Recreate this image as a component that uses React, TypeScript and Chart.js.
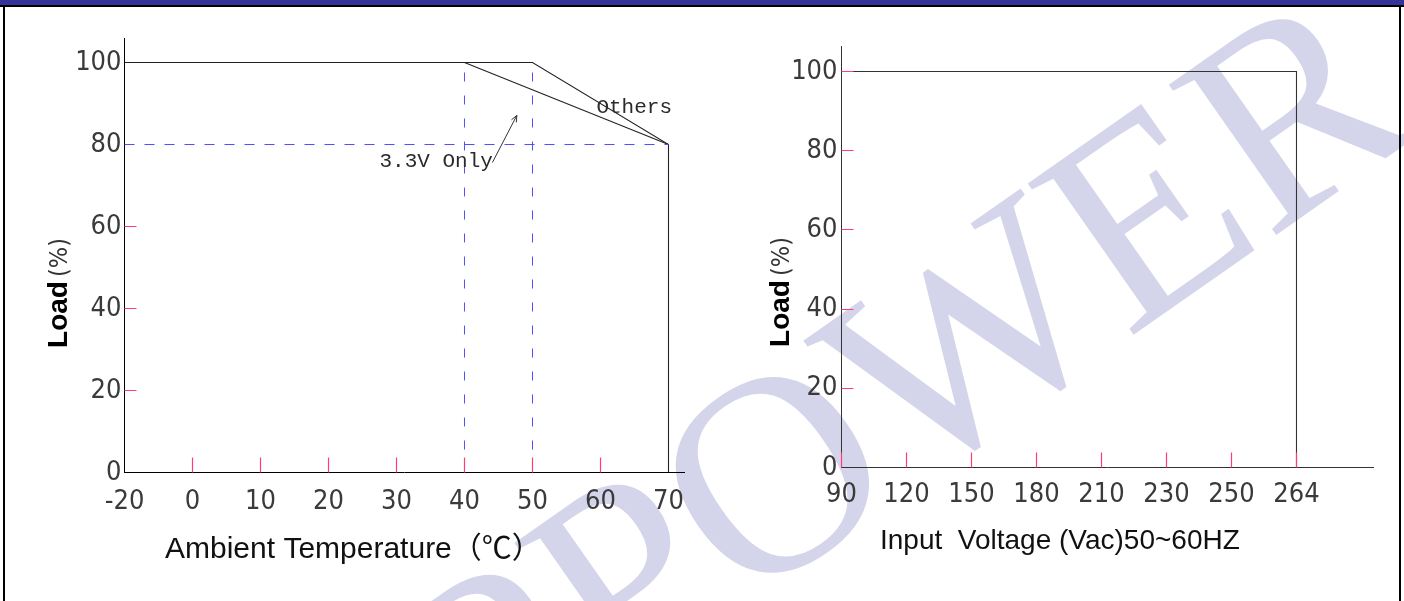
import React, { useEffect, useRef } from "react";
import { Chart, registerables } from "chart.js";

Chart.register(...registerables);

// ---------- Left chart: derating vs ambient temperature ----------
// The temperature axis is broken: -20 sits one tick-step left of 0.
const tempTickValues = [-20, 0, 10, 20, 30, 40, 50, 60, 70];
const tempTickMarks = [0, 10, 20, 30, 40, 50, 60];
const loadTickValues = [0, 20, 40, 60, 80, 100];
const leftLoadTickMarks = [20, 40, 60];

const othersTemp = [-20, 50, 70, 70];
const othersLoad = [100, 100, 80, 0];
const v33Temp = [40, 70];
const v33Load = [100, 80];

const guide40Temp = [40, 40];
const guide40Load = [0, 100];
const guide50Temp = [50, 50];
const guide50Load = [0, 100];
const guide80Temp = [-20, 70];
const guide80Load = [80, 80];

const othersLabel = "Others";
const othersLabelAt = [59.4, 87.8];
const v33Label = "3.3V Only";
const v33LabelAt = [27.5, 74.4];
const arrowFrom = [44.1, 75.6];
const arrowTo = [47.7, 87.1];

// ---------- Right chart: load vs input voltage ----------
const voltageLabels = ["90", "120", "150", "180", "210", "230", "250", "264"];
const voltageLineV = ["90", "264", "264"];
const voltageLineLoad = [100, 100, 0];
const rightLoadTickMarks = [20, 40, 60, 80, 100];

const leftXTitle = "Ambient Temperature（℃）";
const rightXTitle = "Input  Voltage (Vac)50~60HZ";
const yTitleMain = "Load";
const yTitleUnit = "(%)";
const watermark = "PPOWER";

const PINK = "#ff3f74";
const DASH_BLUE = "#4f4fff";
const TICK_FONT = "'DejaVu Sans Condensed', 'DejaVu Sans', sans-serif";

// broken-axis transform: [-20,0] occupies one step, then 10 per step
const tempPos = (t: number) => (t < 0 ? (t + 20) / 20 : 1 + t / 10);
const zipTemp = (xs: number[], ys: number[]) => xs.map((x, i) => ({ x: tempPos(x), y: ys[i] }));

function tickMarksPlugin(xMarks: number[], yMarks: number[], color: string) {
  return {
    id: "tickMarks",
    afterDatasetsDraw(chart: any) {
      const { ctx, chartArea, scales } = chart;
      const xs = scales.x;
      const ys = scales.y;
      ctx.save();
      ctx.strokeStyle = color;
      ctx.lineWidth = 1.2;
      ctx.beginPath();
      xMarks.forEach((v) => {
        const px = Math.floor(xs.getPixelForValue(v)) + 0.5;
        ctx.moveTo(px, chartArea.bottom);
        ctx.lineTo(px, chartArea.bottom - 15);
      });
      yMarks.forEach((v) => {
        const py = Math.floor(ys.getPixelForValue(v)) + 0.5;
        ctx.moveTo(chartArea.left, py);
        ctx.lineTo(chartArea.left + 12, py);
      });
      ctx.stroke();
      ctx.restore();
    },
  };
}

function titlesPlugin(opts: {
  xTitle: string;
  xTitleFont: string;
  xTitleLeft: number;
  xTitleBase: number;
  yTitleX: number;
  yTitleCenter: number;
}) {
  return {
    id: "titles",
    afterDraw(chart: any) {
      const { ctx } = chart;
      ctx.save();
      ctx.fillStyle = "#111";
      ctx.textBaseline = "alphabetic";
      ctx.textAlign = "left";
      ctx.font = opts.xTitleFont;
      ctx.fillText(opts.xTitle, opts.xTitleLeft, opts.xTitleBase);

      ctx.translate(opts.yTitleX, opts.yTitleCenter);
      ctx.rotate(-Math.PI / 2);
      const boldFont = "bold 28px 'Liberation Sans', Arial, sans-serif";
      const lightFont = "25px 'DejaVu Sans Condensed', 'Liberation Sans', sans-serif";
      ctx.font = boldFont;
      const w1 = ctx.measureText(yTitleMain).width;
      ctx.font = lightFont;
      const w2 = ctx.measureText(yTitleUnit).width;
      const gap = 4;
      const total = w1 + gap + w2;
      ctx.font = boldFont;
      ctx.fillStyle = "#000";
      ctx.fillText(yTitleMain, -total / 2, 0);
      ctx.font = lightFont;
      ctx.fillStyle = "#333";
      ctx.fillText(yTitleUnit, -total / 2 + w1 + gap, 0);
      ctx.restore();
    },
  };
}

const annotationPlugin = {
  id: "annotations",
  afterDatasetsDraw(chart: any) {
    const { ctx, scales } = chart;
    const xs = scales.x;
    const ys = scales.y;
    const px = (t: number) => xs.getPixelForValue(tempPos(t));
    const py = (l: number) => ys.getPixelForValue(l);
    ctx.save();
    ctx.fillStyle = "#2a2a2a";
    ctx.font = "21px 'Liberation Mono', 'DejaVu Sans Mono', monospace";
    ctx.textBaseline = "alphabetic";
    ctx.textAlign = "left";
    ctx.fillText(othersLabel, px(othersLabelAt[0]), py(othersLabelAt[1]));
    ctx.fillText(v33Label, px(v33LabelAt[0]), py(v33LabelAt[1]));

    const x1 = px(arrowFrom[0]);
    const y1 = py(arrowFrom[1]);
    const x2 = px(arrowTo[0]);
    const y2 = py(arrowTo[1]);
    const ang = Math.atan2(y2 - y1, x2 - x1);
    ctx.strokeStyle = "#333";
    ctx.lineWidth = 1;
    ctx.beginPath();
    ctx.moveTo(x1, y1);
    ctx.lineTo(x2, y2);
    const h = 7;
    ctx.moveTo(x2, y2);
    ctx.lineTo(x2 - h * Math.cos(ang - 0.4), y2 - h * Math.sin(ang - 0.4));
    ctx.moveTo(x2, y2);
    ctx.lineTo(x2 - h * Math.cos(ang + 0.4), y2 - h * Math.sin(ang + 0.4));
    ctx.stroke();
    ctx.restore();
  },
};

export default function App() {
  const wmRef = useRef<HTMLCanvasElement>(null);
  const leftRef = useRef<HTMLCanvasElement>(null);
  const rightRef = useRef<HTMLCanvasElement>(null);

  useEffect(() => {
    // watermark, anchored on the centre of its "O"
    const wm = wmRef.current!;
    const wctx = wm.getContext("2d")!;
    wctx.clearRect(0, 0, wm.width, wm.height);
    const size = 282;
    const a = (-35 * Math.PI) / 180;
    wctx.save();
    wctx.fillStyle = "#d4d5ea";
    wctx.font = `${size}px 'Liberation Serif', 'Times New Roman', serif`;
    const along = wctx.measureText("PP").width + wctx.measureText("O").width / 2;
    const up = -0.331 * size;
    const ox = along * Math.cos(a) - up * Math.sin(a);
    const oy = along * Math.sin(a) + up * Math.cos(a);
    wctx.translate(772 - ox, 474 - oy);
    wctx.rotate(a);
    wctx.fillText(watermark, 0, 0);
    wctx.restore();

    const lineStyle = (color: string, width: number, dash: number[] = []) => ({
      showLine: true,
      borderColor: color,
      backgroundColor: color,
      borderWidth: width,
      borderDash: dash,
      pointRadius: 0,
      fill: false,
      tension: 0,
    });

    const tickFont = { family: TICK_FONT, size: 27 };

    const left = new Chart(leftRef.current!, {
      type: "scatter",
      data: {
        datasets: [
          { label: "guide40", data: zipTemp(guide40Temp, guide40Load), ...lineStyle(DASH_BLUE, 1, [9, 14]) },
          { label: "guide50", data: zipTemp(guide50Temp, guide50Load), ...lineStyle(DASH_BLUE, 1, [9, 14]) },
          { label: "guide80", data: zipTemp(guide80Temp, guide80Load), ...lineStyle(DASH_BLUE, 1, [10, 10]) },
          { label: "Others", data: zipTemp(othersTemp, othersLoad), ...lineStyle("#222", 1.1) },
          { label: "3.3V Only", data: zipTemp(v33Temp, v33Load), ...lineStyle("#222", 1.1) },
        ],
      } as any,
      options: {
        responsive: false,
        animation: false,
        maintainAspectRatio: false,
        layout: { padding: { left: 0.5, top: 38, right: 16, bottom: 0 } },
        plugins: { legend: { display: false }, tooltip: { enabled: false } },
        scales: {
          x: {
            type: "linear",
            min: 0,
            max: 8.228,
            grid: { display: false, drawTicks: false },
            border: { display: true, color: "#000", width: 1 },
            afterBuildTicks: (s: any) => {
              s.ticks = tempTickValues.map((v) => ({ value: tempPos(v) }));
            },
            afterFit: (s: any) => {
              s.height = 128.5;
            },
            ticks: {
              autoSkip: false,
              maxRotation: 0,
              padding: 13,
              color: "#3a3a3a",
              font: tickFont,
              callback: (_v: any, i: number) => String(tempTickValues[i]),
            },
          },
          y: {
            type: "linear",
            min: 0,
            max: 105.98,
            grid: { display: false, drawTicks: false },
            border: { display: true, color: "#000", width: 1 },
            afterBuildTicks: (s: any) => {
              s.ticks = loadTickValues.map((v) => ({ value: v }));
            },
            afterFit: (s: any) => {
              s.width = 124;
            },
            ticks: {
              padding: 3,
              color: "#3a3a3a",
              font: tickFont,
              callback: (v: any) => String(v),
            },
          },
        },
      } as any,
      plugins: [
        tickMarksPlugin(tempTickMarks.map(tempPos), leftLoadTickMarks, PINK),
        annotationPlugin,
        titlesPlugin({
          xTitle: leftXTitle,
          xTitleFont: "30px 'Liberation Sans', 'Noto Sans CJK SC', sans-serif",
          xTitleLeft: 165,
          xTitleBase: 558,
          yTitleX: 67,
          yTitleCenter: 293,
        }),
      ],
    });

    const right = new Chart(rightRef.current!, {
      type: "scatter",
      data: {
        datasets: [
          {
            label: "Load",
            data: voltageLineV.map((v, i) => ({ x: voltageLabels.indexOf(v), y: voltageLineLoad[i] })),
            ...lineStyle("#333", 1.1),
          },
        ],
      } as any,
      options: {
        responsive: false,
        animation: false,
        maintainAspectRatio: false,
        layout: { padding: { left: 0.5, top: 46, right: 31, bottom: 0 } },
        plugins: { legend: { display: false }, tooltip: { enabled: false } },
        scales: {
          x: {
            type: "linear",
            min: 0,
            max: 8.177,
            grid: { display: false, drawTicks: false },
            border: { display: true, color: "#333", width: 1 },
            afterBuildTicks: (s: any) => {
              s.ticks = voltageLabels.map((_, i) => ({ value: i }));
            },
            afterFit: (s: any) => {
              s.height = 133.5;
            },
            ticks: {
              autoSkip: false,
              maxRotation: 0,
              padding: 11,
              color: "#3a3a3a",
              font: tickFont,
              callback: (_v: any, i: number) => voltageLabels[i],
            },
          },
          y: {
            type: "linear",
            min: 0,
            max: 106.44,
            grid: { display: false, drawTicks: false },
            border: { display: true, color: "#333", width: 1 },
            afterBuildTicks: (s: any) => {
              s.ticks = loadTickValues.map((v) => ({ value: v }));
            },
            afterFit: (s: any) => {
              s.width = 141;
            },
            ticks: {
              padding: 4,
              color: "#3a3a3a",
              font: tickFont,
              callback: (v: any) => String(v),
            },
          },
        },
      } as any,
      plugins: [
        tickMarksPlugin(voltageLabels.map((_, i) => i), rightLoadTickMarks, PINK),
        titlesPlugin({
          xTitle: rightXTitle,
          xTitleFont: "28px 'Liberation Sans', Arial, sans-serif",
          xTitleLeft: 180,
          xTitleBase: 549,
          yTitleX: 89,
          yTitleCenter: 292,
        }),
      ],
    });

    return () => {
      left.destroy();
      right.destroy();
    };
  }, []);

  const abs = (s: React.CSSProperties): React.CSSProperties => ({ position: "absolute", ...s });

  return (
    <div style={abs({ left: 0, top: 0, width: 1404, height: 601, background: "#fff", overflow: "hidden" })}>
      <canvas ref={wmRef} width={1404} height={601} style={abs({ left: 0, top: 0 })} />
      <div style={abs({ left: 0, top: 0, width: 1404, height: 5, background: "#333399" })} />
      <div style={abs({ left: 0, top: 5, width: 1404, height: 2, background: "#000" })} />
      <div style={abs({ left: 3, top: 5, width: 2, height: 596, background: "#000" })} />
      <div style={abs({ left: 1399, top: 5, width: 2, height: 596, background: "#000" })} />
      <canvas ref={leftRef} width={700} height={601} style={abs({ left: 0, top: 0 })} />
      <canvas ref={rightRef} width={704} height={601} style={abs({ left: 700, top: 0 })} />
    </div>
  );
}
